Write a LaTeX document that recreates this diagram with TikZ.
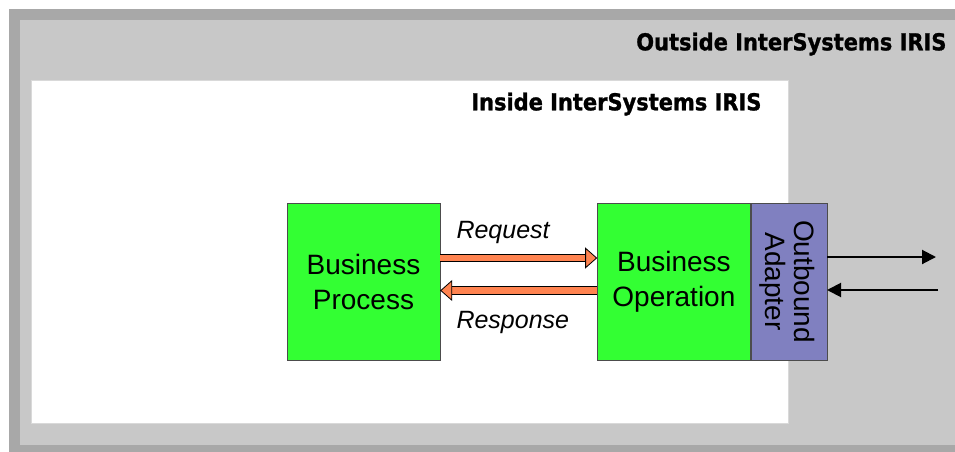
\documentclass[tikz,border=0pt]{standalone}
\usepackage{fontspec}
\setmainfont{Liberation Sans}
\newfontfamily\titlefont{DejaVu Sans Condensed}[BoldFeatures={FakeBold=1.2}]
\usetikzlibrary{positioning}
\usetikzlibrary{arrows.meta}
\definecolor{framedark}{HTML}{A8A8A8}
\definecolor{framelight}{HTML}{C8C8C8}
\definecolor{boxgreen}{HTML}{33FF33}
\definecolor{adapterblue}{HTML}{8080C0}
\definecolor{arroworange}{HTML}{FF8350}

\begin{document}
\begin{tikzpicture}
[x=1pt,y=-1pt,%
  procbox/.style={draw=black!70,fill=boxgreen,minimum width=153pt,minimum height=157pt,
    align=center,font=\fontsize{28}{35}\selectfont},%
  adapterbox/.style={draw=black!70,fill=adapterblue,minimum width=76pt,minimum height=157pt},%
  fat/.style={draw=black,line width=0.8pt,double=arroworange,double distance=6.5pt,
    -{Triangle[length=12pt,width=21pt,fill=arroworange,line width=0.8pt]}},%
  thin/.style={draw=black,line width=2pt,-{Triangle[length=14pt,width=14pt]}},%
  lbl/.style={font=\fontsize{25}{30}\selectfont\itshape,anchor=west},%
  title/.style={font=\titlefont\bfseries\fontsize{23.3}{27}\selectfont,anchor=east}]
\useasboundingbox (0,0) rectangle (955,452);
% frames
\fill[framedark] (9,9) rectangle (955,452);
\fill[framelight] (20,20) rectangle (955,445);
\filldraw[fill=white,draw=black!15] (31,80) rectangle (788,423);
\node[title] (outside) at (950,44) {Outside InterSystems IRIS};
\node[title] (inside) at (765,104) {Inside InterSystems IRIS};
% boxes
\node[procbox] (bp) at (363.5,281.5) {Business\\Process};
\node[procbox,right=157pt of bp] (bo) {Business\\Operation};
\node[adapterbox,right=0pt of bo] (oa) {};
\node[rotate=-90,align=center,font=\fontsize{28}{29}\selectfont] (oatext) at ([xshift=-2pt]oa.center) {Outbound\\Adapter};
% request and response
\draw[fat] ([yshift=23.5pt]bp.east) -- ([yshift=23.5pt]bo.west);
\draw[fat] ([yshift=-9pt]bo.west) -- ([yshift=-9pt]bp.east);
\node[lbl] (req) at (453,232) {Request};
\node[lbl] (resp) at (453,322) {Response};
% outside connection
\coordinate (outend) at (936,257);
\coordinate (instart) at (938,290);
\draw[thin] (oa.east |- outend) -- (outend);
\draw[thin] (instart) -- (oa.east |- instart);
\end{tikzpicture}
\end{document}
